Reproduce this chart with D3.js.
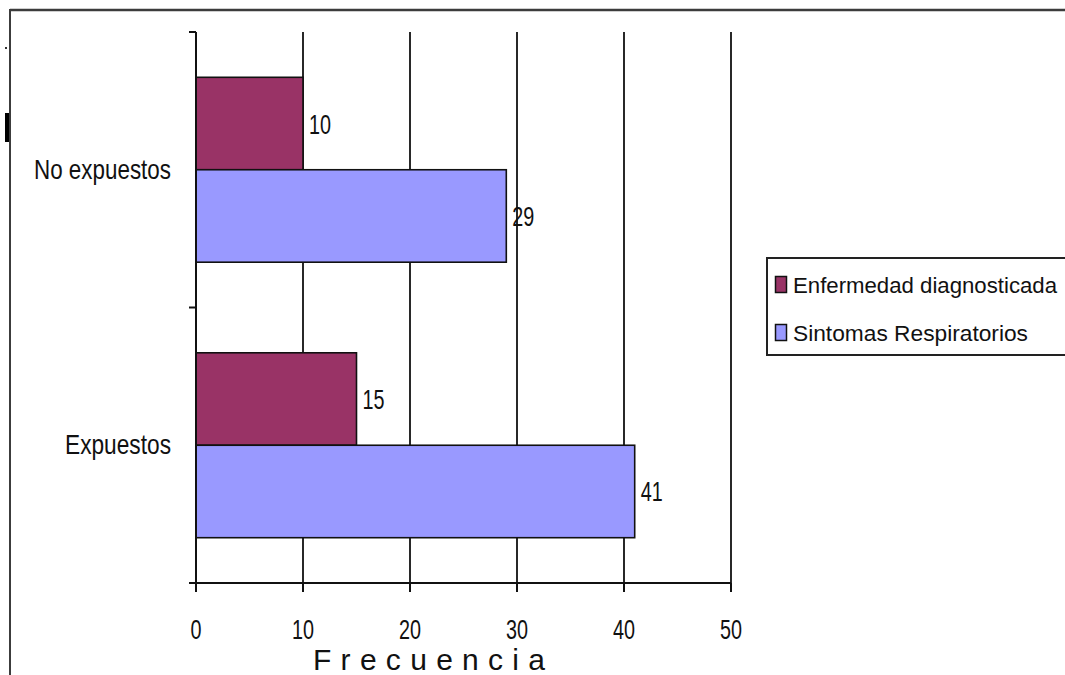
<!DOCTYPE html>
<html><head><meta charset="utf-8">
<script src="https://cdn.jsdelivr.net/npm/d3@7"></script>
<style>
html,body{margin:0;padding:0;background:#fff;}
svg{display:block;}
text{font-family:"Liberation Sans Narrow","Arial Narrow","Liberation Sans",Arial,sans-serif;fill:#111;}
</style></head>
<body>
<svg id="chart" width="1065" height="675"></svg>
<script>
const categories = ["No expuestos", "Expuestos"];
const seriesNames = ["Enfermedad diagnosticada", "Sintomas Respiratorios"];
const enfermedad = [10, 15];
const sintomas = [29, 41];
const xTicks = [0, 10, 20, 30, 40, 50];
const axisTitle = "Frecuencia";
const colors = ["#993366", "#9999FF"];

const seriesValues = [enfermedad, sintomas];
const svg = d3.select("#chart");

// frame
svg.append("line").attr("x1",10).attr("x2",1065).attr("y1",10).attr("y2",10)
  .attr("stroke","#3c3c3c").attr("stroke-width",2.5);
svg.append("line").attr("x1",10).attr("x2",10).attr("y1",9).attr("y2",675)
  .attr("stroke","#3c3c3c").attr("stroke-width",2);
svg.append("rect").attr("x",5).attr("y",113).attr("width",4).attr("height",29).attr("fill","#000");
svg.append("rect").attr("x",5).attr("y",47).attr("width",2).attr("height",2).attr("fill","#333");

const x = d3.scaleLinear().domain([0, 50]).range([196, 731]);
const y = d3.scaleBand().domain(categories).range([32, 583]).padding(0);
const yi = d3.scaleBand().domain(seriesNames).range([0, y.bandwidth()]).paddingInner(0).paddingOuter(0.49);

// gridlines
svg.append("g").selectAll("line").data(xTicks.filter(d => d > 0)).join("line")
  .attr("x1", d => x(d)).attr("x2", d => x(d)).attr("y1", 32).attr("y2", 583)
  .attr("stroke", "#111").attr("stroke-width", 1.8);

// bars
const rows = [];
categories.forEach((c, i) => seriesNames.forEach((s, j) => rows.push({c, s, j, v: seriesValues[j][i]})));
svg.append("g").selectAll("rect").data(rows).join("rect")
  .attr("x", x(0)).attr("y", d => y(d.c) + yi(d.s))
  .attr("width", d => x(d.v) - x(0)).attr("height", yi.bandwidth())
  .attr("fill", d => colors[d.j]).attr("stroke", "#111").attr("stroke-width", 1.6);

// value labels
svg.append("g").selectAll("text").data(rows).join("text")
  .attr("x", d => x(d.v) + 6).attr("y", d => y(d.c) + yi(d.s) + yi.bandwidth()/2 + 10)
  .attr("font-size", 28).attr("textLength", 22).attr("lengthAdjust", "spacingAndGlyphs")
  .text(d => d.v);

// y axis
const yAxis = svg.append("g");
yAxis.append("line").attr("x1",196).attr("x2",196).attr("y1",32).attr("y2",583)
  .attr("stroke","#111").attr("stroke-width",2);
const yTickPos = [y.range()[0]].concat(categories.map(c => y(c) + y.bandwidth()));
yAxis.selectAll("line.t").data(yTickPos).join("line").attr("class","t")
  .attr("x1",189).attr("x2",196).attr("y1",d=>d).attr("y2",d=>d)
  .attr("stroke","#111").attr("stroke-width",2);
yAxis.selectAll("text").data(categories).join("text")
  .attr("x",171).attr("y", d => y(d) + y.bandwidth()/2 + 9)
  .attr("text-anchor","end").attr("font-size",28)
  .attr("textLength", d => d === "No expuestos" ? 137 : 106).attr("lengthAdjust","spacingAndGlyphs")
  .text(d => d);

// x axis
const xAxis = svg.append("g");
xAxis.append("line").attr("x1",189).attr("x2",731).attr("y1",583).attr("y2",583)
  .attr("stroke","#111").attr("stroke-width",2);
xAxis.selectAll("line.t").data(xTicks).join("line").attr("class","t")
  .attr("x1",d=>x(d)).attr("x2",d=>x(d)).attr("y1",583).attr("y2",592)
  .attr("stroke","#111").attr("stroke-width",2);
xAxis.selectAll("text").data(xTicks).join("text")
  .attr("x",d=>x(d)).attr("y",639).attr("text-anchor","middle").attr("font-size",28)
  .attr("textLength", d => String(d).length * 11).attr("lengthAdjust","spacingAndGlyphs")
  .text(d=>d);
svg.append("text").attr("x",313).attr("y",670).attr("font-size",30)
  .attr("textLength",232).attr("lengthAdjust","spacing").text(axisTitle);

// legend
const lg = svg.append("g");
lg.append("rect").attr("x",767).attr("y",258).attr("width",310).attr("height",97)
  .attr("fill","#fff").attr("stroke","#222").attr("stroke-width",2);
const legendY = [276, 324];
const legendW = [264, 235];
seriesNames.forEach((s, j) => {
  lg.append("rect").attr("x",775.5).attr("y",legendY[j]+0.5).attr("width",11).attr("height",16)
    .attr("fill",colors[j]).attr("stroke","#111").attr("stroke-width",1.5);
  lg.append("text").attr("x",793).attr("y",legendY[j]+17).attr("font-size",22)
    .attr("textLength",legendW[j]).attr("lengthAdjust","spacingAndGlyphs").text(s);
});
</script>
</body></html>
